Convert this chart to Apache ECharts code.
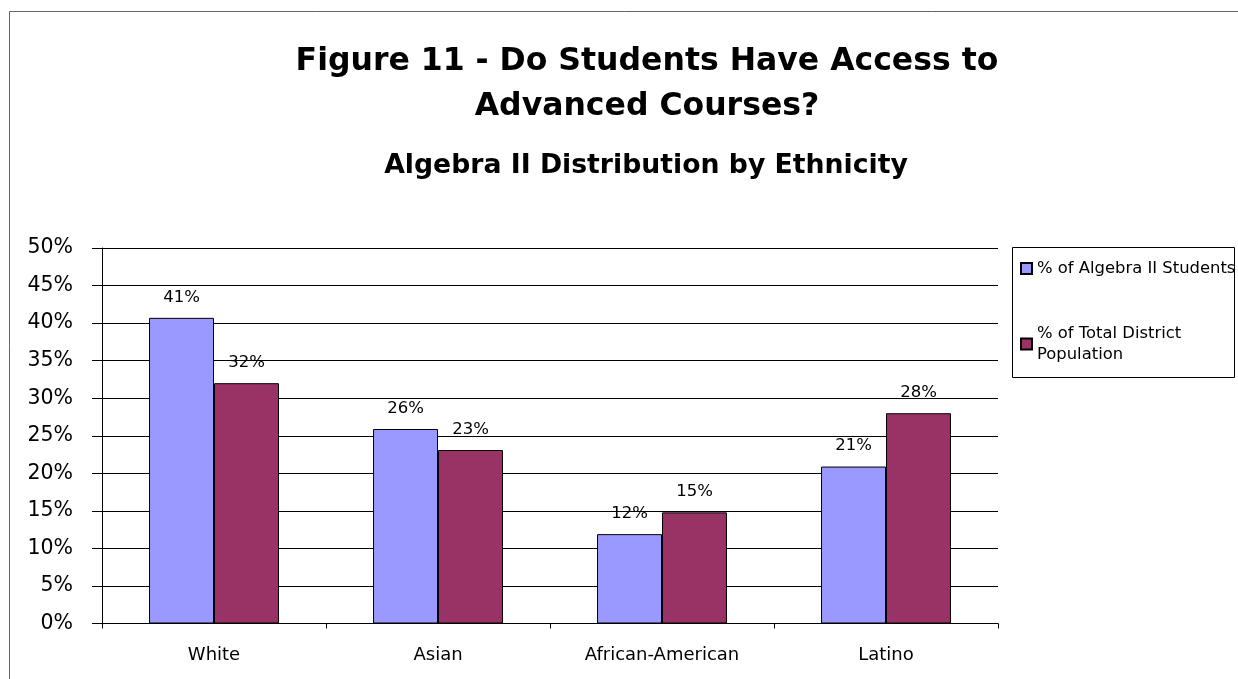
<!DOCTYPE html>
<html>
<head>
<meta charset="utf-8">
<script src="https://cdn.jsdelivr.net/npm/echarts@6/dist/echarts.min.js"></script>
<style>
html,body{margin:0;padding:0;background:#fff;}
#chart{width:1238px;height:679px;}
</style>
</head>
<body>
<div id="chart"></div>
<script>
var categories = ['White', 'Asian', 'African-American', 'Latino'];
var algebraStudents = [40.7, 25.9, 11.9, 20.9];
var districtPopulation = [32.0, 23.1, 14.8, 28.0];
var seriesNames = ['% of Algebra II Students', '% of Total District Population'];
var yTicks = {min: 0, max: 50, interval: 5};

var FONT = '"DejaVu Sans", Arial, sans-serif';
var chart = echarts.init(document.getElementById('chart'));
chart.setOption({
  backgroundColor: '#fff',
  animation: false,
  title: [
    {
      text: 'Figure 11 - Do Students Have Access to\nAdvanced Courses?',
      left: 642, top: 34, textAlign: 'center',
      textStyle: {fontFamily: FONT, fontSize: 31.5, fontWeight: 'bold', color: '#000', lineHeight: 45}
    },
    {
      text: 'Algebra II Distribution by Ethnicity',
      left: 641, top: 145, textAlign: 'center',
      textStyle: {fontFamily: FONT, fontSize: 26.7, fontWeight: 'bold', color: '#000', lineHeight: 32}
    }
  ],
  graphic: [
    {type: 'rect', shape: {x: 9.5, y: 11.5, width: 1300, height: 800}, style: {fill: 'none', stroke: '#666', lineWidth: 1}, silent: true},
    {type: 'rect', shape: {x: 1012.5, y: 247.5, width: 222, height: 130}, style: {fill: '#fff', stroke: '#000', lineWidth: 1}, silent: true, z: 0}
  ],
  legend: {
    orient: 'vertical',
    left: 1020, top: 258,
    itemWidth: 11, itemHeight: 11, itemGap: 44,
    padding: 0,
    icon: 'rect',
    data: seriesNames,
    formatter: function (n) { return n === seriesNames[1] ? '% of Total District\nPopulation' : n; },
    textStyle: {fontFamily: FONT, fontSize: 16.4, color: '#000', lineHeight: 21, padding: [0, 0, 0, 0]},
    z: 5
  },
  grid: {left: 102, right: 240, top: 248, bottom: 55.5, containLabel: false},
  xAxis: {
    type: 'category',
    data: categories,
    axisLine: {lineStyle: {color: '#000', width: 1}},
    axisTick: {show: true, length: 5, lineStyle: {color: '#000'}},
    axisLabel: {fontFamily: FONT, fontSize: 18, color: '#000', margin: 23},
    splitLine: {show: false}
  },
  yAxis: {
    type: 'value',
    min: yTicks.min, max: yTicks.max, interval: yTicks.interval,
    axisLine: {show: true, lineStyle: {color: '#000', width: 1}},
    axisTick: {show: true, length: 10, lineStyle: {color: '#000'}},
    axisLabel: {fontFamily: FONT, fontSize: 20.5, color: '#000', margin: 29, formatter: '{value}%'},
    splitLine: {show: true, lineStyle: {color: '#000', width: 1}}
  },
  series: [
    {
      name: seriesNames[0], type: 'bar', data: algebraStudents,
      barGap: '0%', barCategoryGap: '42%',
      itemStyle: {color: '#9999FF', borderColor: '#000', borderWidth: 1},
      label: {show: true, position: 'top', distance: 12, fontFamily: FONT, fontSize: 16.5, color: '#000',
        formatter: function (p) { return Math.round(p.value) + '%'; }}
    },
    {
      name: seriesNames[1], type: 'bar', data: districtPopulation,
      itemStyle: {color: '#993366', borderColor: '#000', borderWidth: 1},
      label: {show: true, position: 'top', distance: 12, fontFamily: FONT, fontSize: 16.5, color: '#000',
        formatter: function (p) { return Math.round(p.value) + '%'; }}
    }
  ]
});
</script>
</body>
</html>
